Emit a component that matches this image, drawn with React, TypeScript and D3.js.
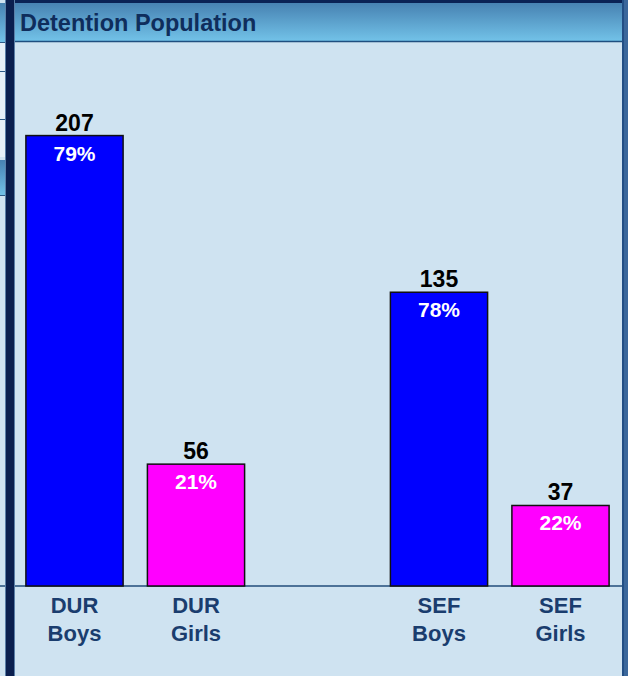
import React from "react";
import * as d3 from "d3";

const categories = ["DUR Boys", "DUR Girls", "", "SEF Boys", "SEF Girls"];
const groupLabels = ["DUR", "DUR", "", "SEF", "SEF"];
const subLabels = ["Boys", "Girls", "", "Boys", "Girls"];
const counts = [207, 56, null, 135, 37];
const percents = ["79%", "21%", "", "78%", "22%"];
const barColors = ["#0000ff", "#ff00ff", "none", "#0000ff", "#ff00ff"];
const title = "Detention Population";

const W = 628;
const H = 676;

export default function App() {
  const x = d3
    .scaleBand<string>()
    .domain(categories)
    .range([13.75, 621.25])
    .paddingInner(0.2)
    .paddingOuter(0.1);
  const y = d3.scaleLinear().domain([0, 250]).range([586, 42]);
  const font = "'Liberation Sans', Arial, sans-serif";

  return (
    <>
      <style>{`body{margin:0}`}</style>
      <svg width={W} height={H} style={{ display: "block" }}>
        <defs>
          <linearGradient id="hdr" x1="0" y1="0" x2="0" y2="1">
            <stop offset="0" stopColor="#4782b2" />
            <stop offset="1" stopColor="#72c2e8" />
          </linearGradient>
        </defs>
        {/* background */}
        <rect x={0} y={0} width={W} height={H} fill="#cfe3f1" />
        {/* left strip */}
        <rect x={0} y={3} width={6} height={39} fill="url(#hdr)" />
        <rect x={0} y={42} width={6} height={115} fill="#e6f0f8" />
        <line x1={0} x2={6} y1={42.5} y2={42.5} stroke="#2d5b88" />
        <line x1={0} x2={6} y1={71.5} y2={71.5} stroke="#2d5b88" />
        <line x1={0} x2={6} y1={119.5} y2={119.5} stroke="#2d5b88" />
        <rect x={0} y={160} width={6} height={35} fill="url(#hdr)" />
        <line x1={0} x2={6} y1={195.5} y2={195.5} stroke="#2d5b88" />
        {/* header */}
        <rect x={14} y={0} width={W - 14} height={3} fill="#0a2255" />
        <rect x={14} y={3} width={609} height={38} fill="url(#hdr)" />
        <line x1={14} x2={623} y1={41.5} y2={41.5} stroke="#1f4f80" strokeWidth={1.5} />
        <text
          x={20}
          y={31}
          fontFamily={font}
          fontWeight="bold"
          fontSize={23.5}
          fill="#0f2d5c"
        >
          {title}
        </text>
        {/* baseline */}
        <line x1={0} x2={622} y1={y(0)} y2={y(0)} stroke="#4d7298" strokeWidth={2} />
        {/* left navy bar */}
        <rect x={5} y={0} width={10} height={H} fill="#5a7fa8" />
        <rect x={6} y={0} width={8} height={H} fill="#0a1f4f" />
        {/* right border */}
        <rect x={622} y={0} width={2} height={H} fill="#234f85" />
        <rect x={624} y={0} width={4} height={H} fill="#3b679b" />
        {/* bars */}
        {categories.map((c, i) => {
          const v = counts[i];
          if (v == null) return null;
          const bx = x(c) as number;
          const bw = x.bandwidth();
          const cx = bx + bw / 2;
          return (
            <g key={c}>
              <rect
                x={bx}
                y={y(v)}
                width={bw}
                height={y(0) - y(v)}
                fill={barColors[i]}
                stroke="#111"
                strokeWidth={1.5}
              />
              <text
                x={cx}
                y={y(v) - 5}
                textAnchor="middle"
                fontFamily={font}
                fontWeight="bold"
                fontSize={23}
                fill="#000"
              >
                {v}
              </text>
              <text
                x={cx}
                y={y(v) + 25}
                textAnchor="middle"
                fontFamily={font}
                fontWeight="bold"
                fontSize={21}
                fill="#fff"
              >
                {percents[i]}
              </text>
              <text
                x={cx}
                y={613}
                textAnchor="middle"
                fontFamily={font}
                fontWeight="bold"
                fontSize={22}
                fill="#1a3d6e"
              >
                {groupLabels[i]}
              </text>
              <text
                x={cx}
                y={641}
                textAnchor="middle"
                fontFamily={font}
                fontWeight="bold"
                fontSize={22}
                fill="#1a3d6e"
              >
                {subLabels[i]}
              </text>
            </g>
          );
        })}
      </svg>
    </>
  );
}
